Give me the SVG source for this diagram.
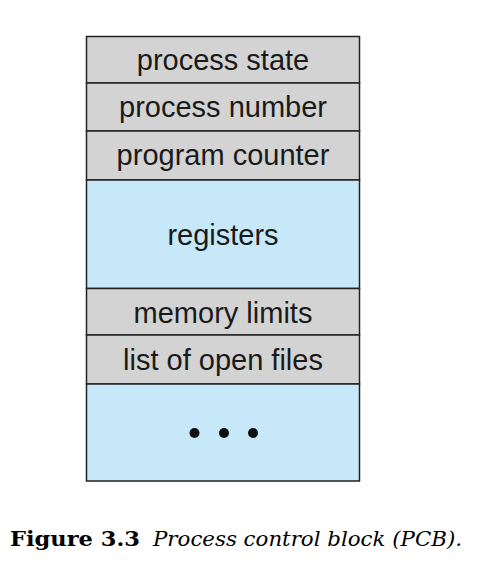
<svg xmlns="http://www.w3.org/2000/svg" width="489" height="565" viewBox="0 0 489 565">
<style>
.gray{fill:#d3d3d3;stroke:#222;stroke-width:1.5}
.blue{fill:#c6e8f8;stroke:#222;stroke-width:1.5}
.lbl{font-family:"Liberation Sans",Arial,sans-serif;font-size:29px;fill:#1a1a1a;text-anchor:middle}
.cap{font-family:"DejaVu Serif","Liberation Serif",serif;font-size:20px;fill:#000}
</style>
<rect width="489" height="565" fill="#fff"/>
<g id="process-state"><rect class="gray" x="86.5" y="36.5" width="273" height="46.5"/><text class="lbl" x="223" y="69.5">process state</text></g>
<g id="process-number"><rect class="gray" x="86.5" y="83" width="273" height="48"/><text class="lbl" x="223" y="116.5">process number</text></g>
<g id="program-counter"><rect class="gray" x="86.5" y="131" width="273" height="49"/><text class="lbl" x="223" y="164.5">program counter</text></g>
<g id="registers"><rect class="blue" x="86.5" y="180" width="273" height="108.5"/><text class="lbl" x="223" y="244.5">registers</text></g>
<g id="memory-limits"><rect class="gray" x="86.5" y="288.5" width="273" height="46.5"/><text class="lbl" x="223" y="322.5">memory limits</text></g>
<g id="open-files"><rect class="gray" x="86.5" y="335" width="273" height="49"/><text class="lbl" x="223" y="369.5">list of open files</text></g>
<g id="more"><rect class="blue" x="86.5" y="384" width="273" height="97"/>
<circle cx="194.5" cy="433" r="5" fill="#111"/><circle cx="224" cy="433" r="5" fill="#111"/><circle cx="253" cy="433" r="5" fill="#111"/></g>
<g id="connectors"></g>
<text class="cap" x="10" y="546" font-weight="bold" textLength="130" lengthAdjust="spacingAndGlyphs">Figure 3.3</text>
<text class="cap" x="153" y="546" font-style="italic" textLength="309" lengthAdjust="spacingAndGlyphs">Process control block (PCB).</text>
</svg>
